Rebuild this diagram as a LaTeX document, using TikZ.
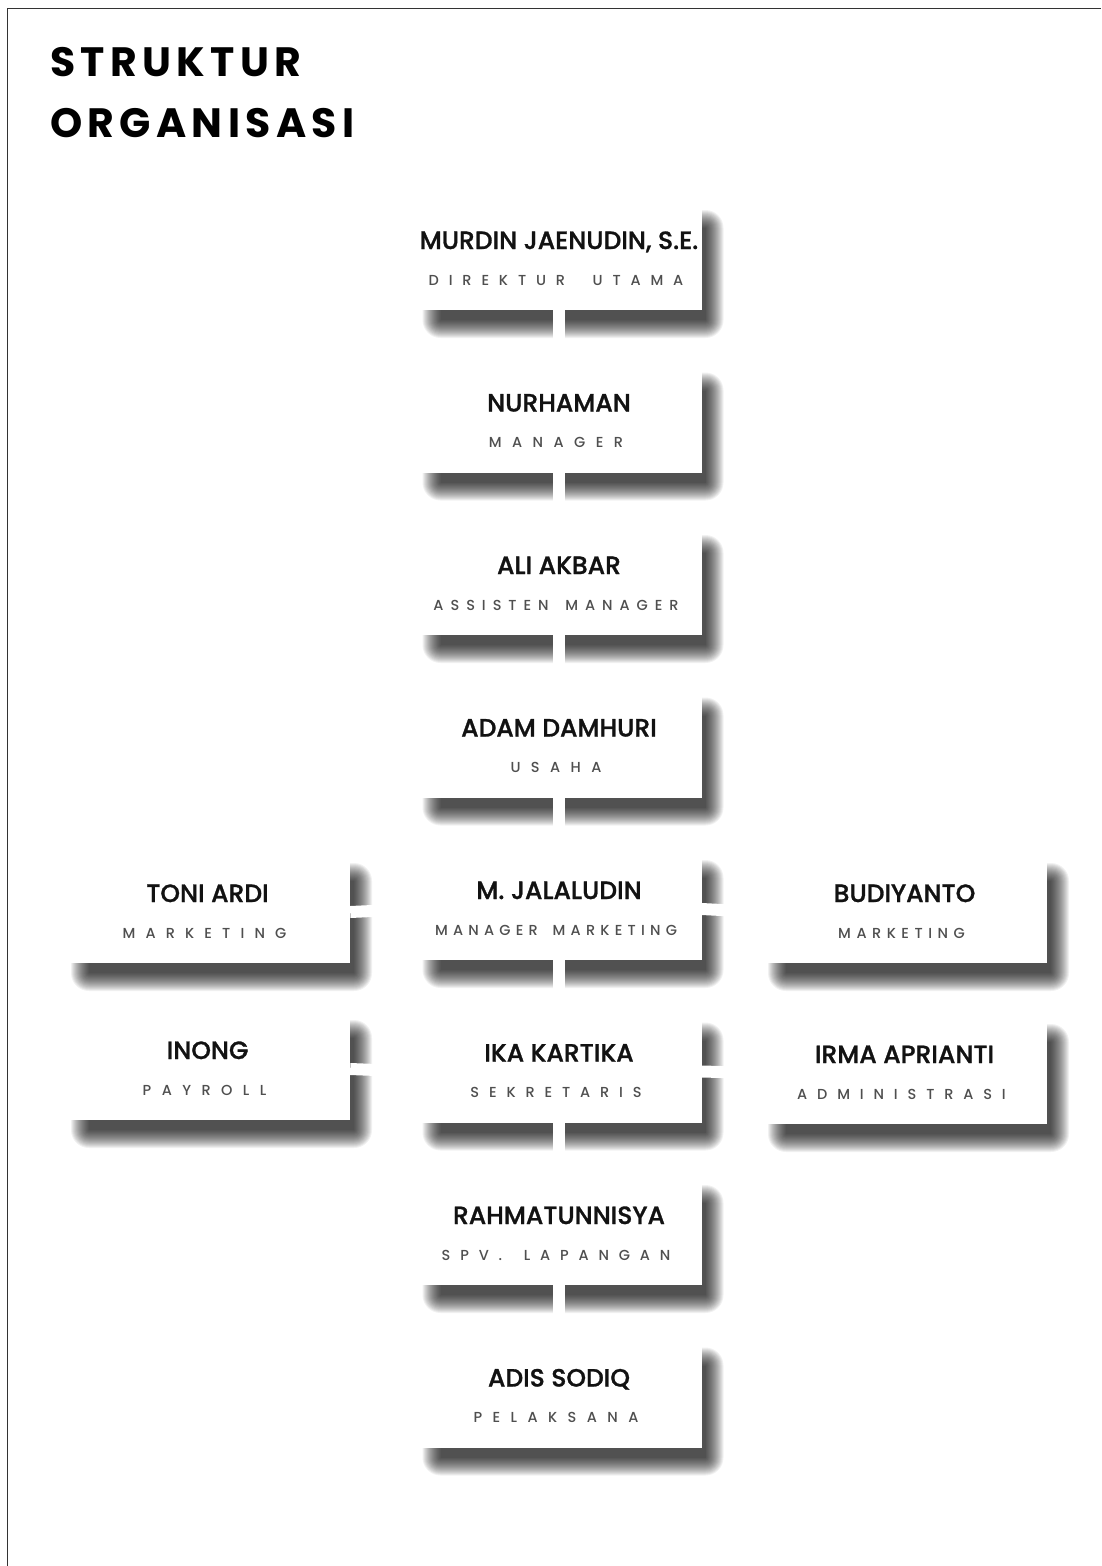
\documentclass[tikz,border=0pt]{standalone}
\usepackage{fontspec}
\newfontfamily\titlefont{Poppins}[LetterSpace=13]
\newfontfamily\namefont{Poppins Medium}[FakeBold=1.1]
\newfontfamily\subfont{Poppins Medium}
\definecolor{nmcol}{HTML}{121212}
\definecolor{sbcol}{HTML}{4F4F4F}
\definecolor{framecol}{HTML}{333333}
\tikzset{
  orgcard/.style={fill=white, draw=none, minimum width=285pt, minimum height=102pt, inner sep=0pt},
  nmtext/.style={font=\namefont\fontsize{25}{28}\selectfont, text=nmcol, inner sep=0pt, anchor=base},
  sbtext/.style={font=\subfont\fontsize{14.5}{16}\selectfont, text=sbcol, inner sep=0pt, anchor=base},
  linkline/.style={draw=white, line width=12pt},
  titletext/.style={font=\titlefont\bfseries\fontsize{41}{44}\selectfont, text=black, inner sep=0pt, anchor=base west}
}
% #1 name, #2 center x, #3 top y, #4 person, #5 role, #6 letter spacing
\newcommand\orgbox[6]{%
  \foreach \r in {18,17,...,0}{%
    \fill[black, fill opacity=0.056, rounded corners=\r pt]
      (#2-118.5-\r, #3+20-\r) rectangle (#2+146.5+\r, #3+112+\r);
  }%
  \node[orgcard] (#1) at (#2, #3+51) {};
  \node[nmtext] (#1n) at (#2, #3+41) {#4};
  \node[sbtext] (#1s) at (#2-3, #3+77) {\addfontfeatures{LetterSpace=#6}#5};
}
\begin{document}
\begin{tikzpicture}[x=1pt, y=-1pt]
\useasboundingbox (0,0) rectangle (1101,1566);
\fill[white] (0,0) rectangle (1101,1566);
\draw[framecol, line width=1.6pt] (7.5,1566) -- (7.5,8.5) -- (1101,8.5);

\node[titletext] (t1) at (50,76.5) {STRUKTUR};
\node[titletext] (t2) at (50,137) {ORGANISASI};

\orgbox{b1}{559}{208}{MURDIN JAENUDIN, S.E.}{DIREKTUR\hspace{14pt} UTAMA}{68}
\orgbox{b2}{559}{370.5}{NURHAMAN}{MANAGER}{72}
\orgbox{b3}{559}{533}{ALI AKBAR}{ASSISTEN\hspace{6pt} MANAGER}{48}
\orgbox{b4}{559}{695.5}{ADAM DAMHURI}{USAHA}{72}
\orgbox{b5}{559}{858}{M. JALALUDIN}{MANAGER\hspace{6pt} MARKETING}{36}
\orgbox{b6}{559}{1020.5}{IKA KARTIKA}{SEKRETARIS}{68}
\orgbox{b7}{559}{1183}{RAHMATUNNISYA}{SPV.\hspace{8pt} LAPANGAN}{68}
\orgbox{b8}{559}{1345.5}{ADIS SODIQ}{PELAKSANA}{72}
\orgbox{l5}{207.5}{861}{TONI ARDI}{MARKETING}{70}
\orgbox{r5}{904.5}{861}{BUDIYANTO}{MARKETING}{38}
\orgbox{l6}{207.5}{1018}{INONG}{PAYROLL}{72}
\orgbox{r6}{904.5}{1022}{IRMA APRIANTI}{ADMINISTRASI}{68}

\draw[linkline] (b1.south) -- (b2.north);
\draw[linkline] (b2.south) -- (b3.north);
\draw[linkline] (b3.south) -- (b4.north);
\draw[linkline] (b4.south) -- (b5.north);
\draw[linkline] (b5.south) -- (b6.north);
\draw[linkline] (b6.south) -- (b7.north);
\draw[linkline] (b7.south) -- (b8.north);
\draw[linkline] (l5.east) -- (b5.west);
\draw[linkline] (b5.east) -- (r5.west);
\draw[linkline] (l6.east) -- (b6.west);
\draw[linkline] (b6.east) -- (r6.west);
\end{tikzpicture}
\end{document}
